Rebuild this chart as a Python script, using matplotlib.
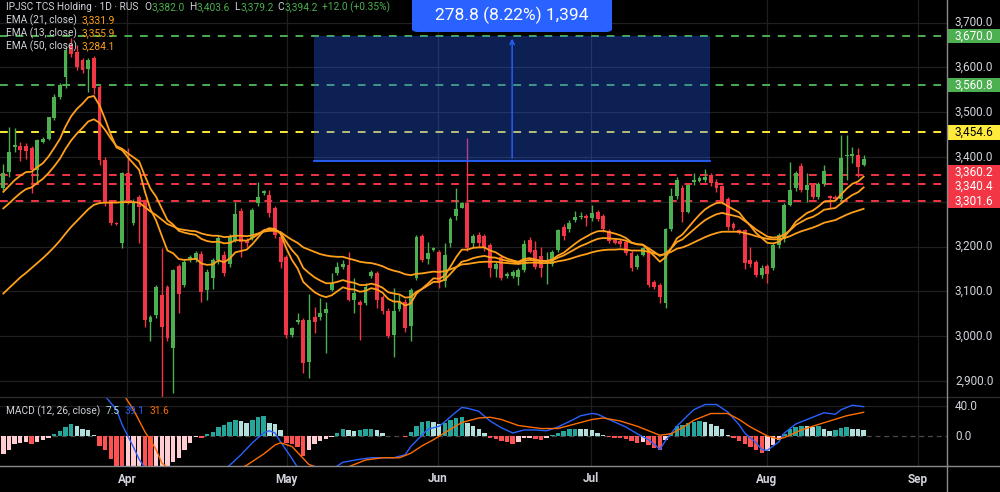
import matplotlib.pyplot as plt
import matplotlib.patches as mpatches
import numpy as np

plt.rcParams['font.family'] = ['Roboto', 'DejaVu Sans']

# ---- data (bar index = trading session) ----
opens = [3330, 3367, 3421, 3424, 3424, 3419, 3371, 3434, 3441, 3486, 3534, 3579, 3647, 3635, 3616, 3597, 3620, 3557, 3394, 3296,
         3252, 3207, 3363, 3252, 3311, 3300, 3032, 3047, 3092, 3110, 2973, 3156, 3114, 3170, 3170, 3183, 3103, 3129, 3170, 3181,
         3162, 3215, 3280, 3214, 3218, 3296, 3320, 3315, 3285, 3222, 3177, 3002, 3032, 3037, 2943, 3043, 3042, 3052, 3103, 3140,
         3155, 3159, 3081, 3077, 3075, 3134, 3140, 3088, 3057, 3002, 3060, 3077, 3023, 3129, 3223, 3171, 3192, 3188, 3122, 3207,
         3267, 3287, 3298, 3207, 3226, 3223, 3203, 3149, 3177, 3134, 3134, 3132, 3148, 3215, 3192, 3179, 3164, 3161, 3192, 3244,
         3238, 3259, 3265, 3268, 3263, 3276, 3267, 3235, 3214, 3212, 3209, 3185, 3154, 3181, 3196, 3121, 3114, 3075, 3238, 3313,
         3330, 3278, 3343, 3347, 3348, 3360, 3345, 3334, 3305, 3250, 3237, 3237, 3170, 3166, 3136, 3156, 3151, 3203, 3216, 3293,
         3330, 3380, 3326, 3337, 3310, 3340, 3313, 3311, 3305, 3402, 3403, 3404, 3382.0]
highs = [3385, 3467, 3464, 3434, 3430, 3425, 3441, 3445, 3490, 3540, 3565, 3646, 3665, 3650, 3620, 3620, 3625, 3560, 3400, 3300,
         3254, 3366, 3419, 3305, 3315, 3305, 3048, 3115, 3196, 3115, 3150, 3160, 3170, 3180, 3190, 3190, 3150, 3175, 3225, 3190,
         3228, 3300, 3285, 3220, 3285, 3345, 3327, 3326, 3290, 3230, 3180, 3020, 3052, 3040, 3095, 3066, 3084, 3077, 3140, 3166,
         3170, 3188, 3129, 3080, 3118, 3148, 3145, 3092, 3062, 3107, 3095, 3082, 3108, 3226, 3228, 3211, 3200, 3192, 3207, 3265,
         3330, 3300, 3442, 3229, 3232, 3228, 3208, 3166, 3182, 3142, 3148, 3152, 3215, 3222, 3213, 3200, 3188, 3192, 3240, 3250,
         3259, 3280, 3278, 3272, 3293, 3282, 3273, 3240, 3218, 3216, 3213, 3190, 3184, 3200, 3200, 3125, 3118, 3242, 3330, 3356,
         3337, 3340, 3363, 3358, 3374, 3363, 3350, 3338, 3310, 3254, 3240, 3240, 3200, 3170, 3158, 3160, 3207, 3230, 3297, 3389,
         3368, 3386, 3363, 3341, 3345, 3382, 3316, 3314, 3449, 3449, 3423, 3419, 3403.6]
lows = [3326, 3356, 3411, 3390, 3395, 3319, 3345, 3430, 3438, 3483, 3530, 3553, 3624, 3595, 3588, 3545, 3540, 3382, 3290, 3248,
        3249, 3196, 3295, 3248, 3207, 3021, 2988, 3040, 2865, 2990, 2872, 3051, 3110, 3166, 3165, 3077, 3081, 3106, 3160, 3135,
        3155, 3210, 3177, 3200, 3214, 3290, 3315, 3265, 3218, 3151, 2995, 2999, 3027, 2917, 2906, 3008, 3035, 2962, 3100, 3136,
        3150, 3078, 3051, 2991, 3070, 3130, 3062, 3050, 2995, 2954, 3055, 3010, 2988, 3125, 3165, 3161, 3190, 3107, 3110, 3200,
        3260, 3285, 3190, 3200, 3200, 3190, 3133, 3133, 3125, 3130, 3130, 3114, 3144, 3185, 3150, 3133, 3116, 3157, 3188, 3215,
        3232, 3255, 3262, 3246, 3258, 3258, 3233, 3208, 3205, 3200, 3180, 3145, 3150, 3178, 3110, 3106, 3073, 3062, 3235, 3305,
        3255, 3274, 3337, 3343, 3344, 3334, 3322, 3295, 3237, 3237, 3228, 3149, 3155, 3133, 3130, 3118, 3148, 3196, 3210, 3290,
        3325, 3322, 3300, 3305, 3305, 3336, 3285, 3303, 3300, 3348, 3386, 3356, 3379.2]
closes = [3363, 3411, 3426, 3415, 3414, 3371, 3438, 3441, 3488, 3534, 3560, 3639, 3630, 3601, 3594, 3616, 3553, 3393, 3296, 3252,
          3251, 3363, 3300, 3300, 3289, 3036, 3043, 3110, 3021, 2995, 3147, 3095, 3166, 3177, 3186, 3099, 3144, 3170, 3220, 3140,
          3222, 3272, 3211, 3207, 3281, 3311, 3324, 3274, 3226, 3166, 3002, 3017, 3037, 2939, 3037, 3032, 3052, 3060, 3119, 3155,
          3161, 3081, 3097, 3070, 3110, 3144, 3081, 3055, 3000, 3057, 3077, 3017, 3103, 3222, 3170, 3186, 3196, 3122, 3181, 3261,
          3283, 3296, 3196, 3224, 3207, 3196, 3151, 3162, 3129, 3138, 3144, 3147, 3206, 3188, 3155, 3151, 3170, 3188, 3237, 3224,
          3253, 3265, 3268, 3263, 3274, 3262, 3238, 3213, 3208, 3205, 3185, 3151, 3179, 3196, 3114, 3110, 3088, 3238, 3313, 3348,
          3278, 3337, 3348, 3354, 3356, 3342, 3330, 3300, 3244, 3241, 3231, 3164, 3161, 3136, 3153, 3139, 3203, 3226, 3293, 3326,
          3363, 3326, 3337, 3310, 3340, 3369, 3308, 3307, 3397, 3404, 3406, 3378, 3394.2]

ema13 = [3322, 3335, 3348, 3358, 3366, 3367, 3377, 3386, 3401, 3420, 3440, 3468, 3491, 3507, 3519, 3533, 3536, 3515, 3484, 3450,
         3421, 3415, 3399, 3385, 3371, 3323, 3283, 3258, 3224, 3191, 3185, 3172, 3170, 3171, 3173, 3162, 3159, 3160, 3169, 3165,
         3173, 3187, 3190, 3193, 3205, 3220, 3235, 3241, 3239, 3228, 3196, 3170, 3151, 3121, 3109, 3098, 3091, 3087, 3091, 3100,
         3109, 3105, 3104, 3099, 3101, 3107, 3104, 3097, 3083, 3077, 3077, 3068, 3073, 3095, 3106, 3117, 3129, 3128, 3135, 3155,
         3176, 3193, 3193, 3197, 3198, 3198, 3191, 3187, 3179, 3173, 3169, 3166, 3172, 3174, 3171, 3168, 3168, 3171, 3180, 3186,
         3196, 3206, 3215, 3222, 3229, 3234, 3235, 3232, 3229, 3225, 3219, 3209, 3205, 3204, 3191, 3179, 3166, 3176, 3196, 3218,
         3227, 3242, 3257, 3271, 3283, 3291, 3297, 3298, 3290, 3283, 3276, 3260, 3246, 3230, 3219, 3208, 3207, 3210, 3222, 3237,
         3255, 3265, 3275, 3280, 3289, 3300, 3301, 3302, 3316, 3329, 3340, 3345, 3355.9]
ema21 = [3285, 3296, 3308, 3319, 3328, 3332, 3342, 3351, 3364, 3379, 3396, 3418, 3437, 3452, 3465, 3479, 3484, 3476, 3460, 3441,
         3424, 3418, 3408, 3399, 3390, 3358, 3329, 3311, 3285, 3259, 3249, 3235, 3231, 3228, 3226, 3217, 3212, 3210, 3211, 3207,
         3208, 3214, 3214, 3213, 3219, 3227, 3236, 3239, 3238, 3231, 3210, 3192, 3178, 3152, 3141, 3131, 3124, 3118, 3118, 3121,
         3125, 3121, 3119, 3114, 3114, 3117, 3114, 3108, 3098, 3095, 3093, 3086, 3087, 3099, 3105, 3113, 3121, 3121, 3126, 3139,
         3153, 3166, 3169, 3174, 3177, 3179, 3176, 3175, 3171, 3168, 3166, 3164, 3168, 3170, 3169, 3167, 3167, 3169, 3175, 3180,
         3187, 3194, 3201, 3206, 3212, 3217, 3219, 3218, 3217, 3216, 3213, 3208, 3205, 3204, 3196, 3188, 3179, 3184, 3196, 3210,
         3216, 3227, 3238, 3249, 3259, 3266, 3272, 3275, 3272, 3269, 3266, 3257, 3248, 3238, 3230, 3222, 3220, 3221, 3227, 3236,
         3248, 3255, 3262, 3266, 3273, 3282, 3284, 3286, 3296, 3306, 3315, 3321, 3331.9]
ema50 = [3095, 3107, 3119, 3131, 3141, 3152, 3163, 3174, 3186, 3199, 3213, 3229, 3244, 3257, 3270, 3283, 3293, 3297, 3298, 3298,
         3298, 3299, 3299, 3299, 3298, 3288, 3278, 3270, 3260, 3250, 3245, 3239, 3237, 3235, 3234, 3229, 3226, 3224, 3224, 3221,
         3222, 3224, 3224, 3223, 3225, 3229, 3233, 3235, 3235, 3232, 3223, 3215, 3208, 3198, 3193, 3188, 3183, 3180, 3178, 3177,
         3177, 3173, 3170, 3166, 3164, 3163, 3160, 3156, 3150, 3146, 3143, 3138, 3136, 3139, 3140, 3142, 3144, 3143, 3145, 3149,
         3154, 3160, 3161, 3163, 3165, 3166, 3166, 3166, 3164, 3163, 3162, 3161, 3163, 3164, 3164, 3163, 3163, 3164, 3167, 3169,
         3172, 3176, 3180, 3183, 3187, 3190, 3192, 3193, 3193, 3194, 3193, 3191, 3191, 3191, 3188, 3185, 3181, 3183, 3188, 3195,
         3198, 3203, 3209, 3215, 3221, 3226, 3230, 3233, 3233, 3233, 3233, 3230, 3227, 3223, 3220, 3217, 3216, 3216, 3219, 3223,
         3229, 3234, 3238, 3242, 3247, 3253, 3256, 3259, 3265, 3271, 3276, 3280, 3284.1]

macd_hist = [-24, -18, -11, -9, -8.5, -11, -8, -5, -2, 3, 7, 12, 15.5, 14, 10, 8, 1.5, -13, -18, -31,
             -45, -50, -48, -46, -44, -52, -58, -55, -50, -44, -34, -29, -18, -9, -1.5, -2, 3, 5.5, 12, 15,
             19, 21, 20, 18, 22, 26, 27, 18, 16, 8, -9, -11, -15, -26, -18, -11, -7, -4, -1.5, 4,
             10, 8, 7, 8, 9, 10, 8, 4, -0.5, -0.3, -0.6, -1, 5, 14, 19, 20, 19, 16, 18, 22,
             24, 25, 18, 13, 9, 4, -2, -4, -6.5, -8, -10, -8, -3, -2.5, -4, -5, -2, 1, 4, 7,
             9, 10, 9.5, 9, 7.5, 4, 1, -1, -2, -3, -4.5, -7, -9.5, -8, -12, -16, -18, -5, 4, 13,
             15, 17, 19, 20, 19, 16, 13, 9, 1, -3, -6, -10, -14, -18, -22, -20, -12, -5, 3, 9,
             12, 14, 13, 12, 14, 10, 7, 8, 11, 12, 10, 9, 7.5]
macd_bar = [16, 18, 20, 21, 23, 24, 25, 27, 30, 33, 36, 39, 40, 42, 44, 46, 47, 48, 49, 51, 52, 55, 58, 60, 63, 65, 67, 69,
            71, 72, 75, 77, 78, 80, 81, 82, 84, 86, 88, 90, 92, 94, 96, 98, 101, 102, 104, 105, 107, 110, 112, 114, 115, 116,
            117, 119, 121, 122, 124, 126, 128, 130, 131, 133, 134, 135, 137, 138, 140, 142, 144, 145, 147, 148, 150, 152]
macd_line = [70, 53, 35, 15, -15, -31, -42, -60, -72, -66, -52, -44, -39, -25, -9, 4, 7, 4, -8, -30, -42, -55, -45, -35, -31,
             -29, -29, -29, -25, -14, 9, 13, 19, 32, 38, 37, 33, 20, 11, 4, 8, 8, 7, 12, 23, 27, 30, 29, 22, 12, 3, -5, -11, -18,
             -6, 13, 28, 35, 42, 42, 32, 15, 4, -9, -18, -19, -8, 4, 16, 22, 28, 31, 29, 35, 41, 39.1]
signal_bar = [19, 21, 23, 25, 27, 28, 30, 34, 38, 41, 43, 46, 48, 49, 51, 52, 54, 57, 60, 62, 64, 67, 70, 72, 74, 76, 79, 81,
              84, 86, 88, 91, 95, 98, 101, 104, 106, 109, 112, 114, 116, 118, 120, 122, 125, 128, 130, 132, 135, 137, 138, 141,
              143, 146, 149, 152]
signal_line = [75, 58, 35, 6, -18, -36, -48, -58, -56, -46, -39, -24, -12, -9, -14, -22, -38, -46, -44, -38, -32, -29, -29,
               -23, -13, -5, 9, 18, 24, 25, 22, 14, 10, 10, 16, 22, 24, 20, 13, 7, 1, 3, 11, 21, 30, 30, 22, 12, 0, -4, -2, 8,
               13, 20, 27, 31.6]

months = ['Apr', 'May', 'Jun', 'Jul', 'Aug', 'Sep']
month_bar = [21.9, 50.1, 76.8, 103.8, 134.9, 161.6]
price_ticks = [2900, 3000, 3100, 3200, 3300, 3400, 3500, 3600, 3700]
levels = [3670.0, 3560.8, 3454.6, 3360.2, 3340.4, 3301.6]
level_kind = ['g', 'g', 'y', 'r', 'r', 'r']
measure_lo, measure_hi = 3391.2, 3670.0
measure_start, measure_end = 54.9, 124.9
measure_text = '278.8 (8.22%) 1,394'

# ---- style ----
BG = '#000000'
GRID = '#1f1f1f'
TXT = '#d1d4dc'
UP, DOWN = '#4caf50', '#f23645'
EMA_C = '#ff9f1a'
kind_face = {'g': '#4caf50', 'y': '#ffeb3b', 'r': '#f23645'}
kind_text = {'g': 'white', 'y': 'black', 'r': 'white'}

W, H = 1000, 492
fig = plt.figure(figsize=(10, 4.92), dpi=100, facecolor=BG)

def fy(px):
    return 1 - px / H

x0 = -3.3 / 5.66
x1 = (947 - 3.3) / 5.66
p_top = 3700 + 22.5 / 0.448
p_bot = 3700 - (397 - 22.5) / 0.448

ax = fig.add_axes([0, fy(397), 0.947, 397 / H], facecolor=BG)
axm = fig.add_axes([0, fy(466), 0.947, 69 / H], facecolor=BG)
axr = fig.add_axes([0.947, fy(397), 0.053, 397 / H], facecolor=BG)
axmr = fig.add_axes([0.947, fy(466), 0.053, 69 / H], facecolor=BG)

for a in (ax, axm, axr, axmr):
    for s in a.spines.values():
        s.set_visible(False)
    a.set_xticks([])
    a.set_yticks([])

ax.set_xlim(x0, x1)
ax.set_ylim(p_bot, p_top)
axm.set_xlim(x0, x1)
axm.set_ylim(-40, 52)
axr.set_xlim(0, 1)
axr.set_ylim(p_bot, p_top)
axmr.set_xlim(0, 1)
axmr.set_ylim(-40, 52)

# grid
for p in price_ticks:
    ax.axhline(p, color=GRID, lw=0.9, zorder=0)
for a in (ax, axm):
    for m in month_bar:
        a.axvline(m, color=GRID, lw=0.9, zorder=0)
axm.axhline(40, color=GRID, lw=0.9, zorder=0)
axm.axhline(0, color='#4a4a4a', lw=0.9, ls=(0, (4, 3)), zorder=0)

# level lines
for lv, k in zip(levels, level_kind):
    ax.axhline(lv, color=kind_face[k], lw=1.4, ls=(0, (4, 4)), zorder=1)

# candles
n = len(closes)
xs = np.arange(n)
o = np.array(opens, float)
c = np.array(closes, float)
cols = [UP if cc >= oo else DOWN for oo, cc in zip(o, c)]
ax.vlines(xs, lows, highs, colors=cols, lw=1.0, zorder=3)
body = np.maximum(np.abs(c - o), 1.5)
ax.bar(xs, body, bottom=np.minimum(o, c), width=0.68, color=cols, zorder=4)

# EMAs
for e in (ema50, ema21, ema13):
    ax.plot(np.arange(len(e)), e, color=EMA_C, lw=1.3, zorder=5)

# measure box
ax.add_patch(mpatches.Rectangle((measure_start, measure_lo), measure_end - measure_start,
                                measure_hi - measure_lo, facecolor='#2962ff', alpha=0.33,
                                edgecolor='none', zorder=6))
ax.plot([measure_start, measure_end], [measure_lo, measure_lo], color='#2962ff', lw=1.3, zorder=7)
mid = (measure_start + measure_end) / 2
ax.annotate('', xy=(mid, measure_hi), xytext=(mid, measure_lo),
            arrowprops=dict(arrowstyle='->', color='#2962ff', lw=1.0, mutation_scale=8), zorder=7)

# MACD pane
h = np.array(macd_hist, float)
hcols = []
for k, v in enumerate(h):
    prev = h[k - 1] if k else v - 1
    if v >= 0:
        hcols.append('#26a69a' if v >= prev else '#b2dfdb')
    else:
        hcols.append('#ff5252' if v <= prev else '#ffcdd2')
axm.bar(np.arange(len(h)), h, width=0.78, color=hcols, zorder=2)
axm.plot(macd_bar, macd_line, color='#2962ff', lw=1.0, zorder=3)
axm.plot(signal_bar, signal_line, color='#ff6d00', lw=1.0, zorder=3)

# separators
fig.add_artist(plt.Line2D([0, 1], [fy(397), fy(397)], color='#2a2a2a', lw=1))
fig.add_artist(plt.Line2D([0, 1], [fy(466), fy(466)], color='#8a8a8a', lw=1))
fig.add_artist(plt.Line2D([0.947, 0.947], [0, 1], color='#8a8a8a', lw=1))

# right price scale
for p in price_ticks:
    axr.text(0.15, p, f'{p:,.1f}', color=TXT, fontsize=8.5, va='center', ha='left', zorder=1)
for p in (0, 40):
    axmr.text(0.15, p, f'{p:.1f}', color=TXT, fontsize=8.5, va='center', ha='left')

# level tags: resolve overlaps in pixel space
px_per = 397 / (p_top - p_bot)
tag_y = [(p_top - lv) * px_per for lv in levels]
half = 7.3
order = list(range(len(levels)))
for _ in range(5):
    for a_i, b_i in zip(order[:-1], order[1:]):
        gap = tag_y[b_i] - tag_y[a_i]
        if gap < 2 * half:
            m = (tag_y[a_i] + tag_y[b_i]) / 2
            tag_y[a_i], tag_y[b_i] = m - half, m + half
for lv, k, ty in zip(levels, level_kind, tag_y):
    pc = p_top - ty / px_per
    hh = half / px_per
    axr.add_patch(mpatches.Rectangle((0.02, pc - hh), 0.98, 2 * hh, facecolor=kind_face[k],
                                     edgecolor='none', zorder=5, clip_on=False))
    axr.text(0.15, pc, f'{lv:,.1f}', color=kind_text[k], fontsize=8.5, va='center', ha='left', zorder=6)

# month labels
for m, lab in zip(month_bar, months):
    axm.text(m, -0.0, lab, transform=axm.get_xaxis_transform(), color=TXT, fontsize=8.5,
             fontweight='bold', ha='center', va='center', clip_on=False)
for t in axm.texts[-len(months):]:
    t.set_y(-(479 - 466) / 69)

# legend rows
renderer = fig.canvas.get_renderer()

def row(y_px, parts, size=7.3):
    x = 6
    for txt, col, gap in parts:
        t = fig.text(x / W, fy(y_px), txt, color=col, fontsize=size, va='center', ha='left')
        x += t.get_window_extent(renderer=renderer).width + gap

GV = '#4caf50'
row(7, [('IPJSC TCS Holding · 1D · RUS', TXT, 6), ('O', TXT, 0.5), ('3,382.0', GV, 4),
        ('H', TXT, 0.5), ('3,403.6', GV, 4), ('L', TXT, 0.5), ('3,379.2', GV, 4),
        ('C', TXT, 0.5), ('3,394.2', GV, 4), ('+12.0 (+0.35%)', GV, 0)])
row(20, [('EMA (21, close)', TXT, 5), ('3,331.9', EMA_C, 0)])
row(33, [('EMA (13, close)', TXT, 5), ('3,355.9', EMA_C, 0)])
row(46, [('EMA (50, close)', TXT, 5), ('3,284.1', EMA_C, 0)])
row(411, [('MACD (12, 26, close)', TXT, 5), ('7.5', '#b2dfdb', 5), ('39.1', '#2962ff', 5), ('31.6', '#ff6d00', 0)])

# measure label
fig.add_artist(mpatches.FancyBboxPatch((412 / W, fy(32)), 200 / W, 40 / H,
                                       boxstyle='round,pad=0,rounding_size=0.006',
                                       facecolor='#2962ff', edgecolor='none',
                                       transform=fig.transFigure, zorder=8))
fig.text(512 / W, fy(15), measure_text, color='white', fontsize=12.5, ha='center', va='center', zorder=9)

fig.savefig('out.png', dpi=100, facecolor=BG)
